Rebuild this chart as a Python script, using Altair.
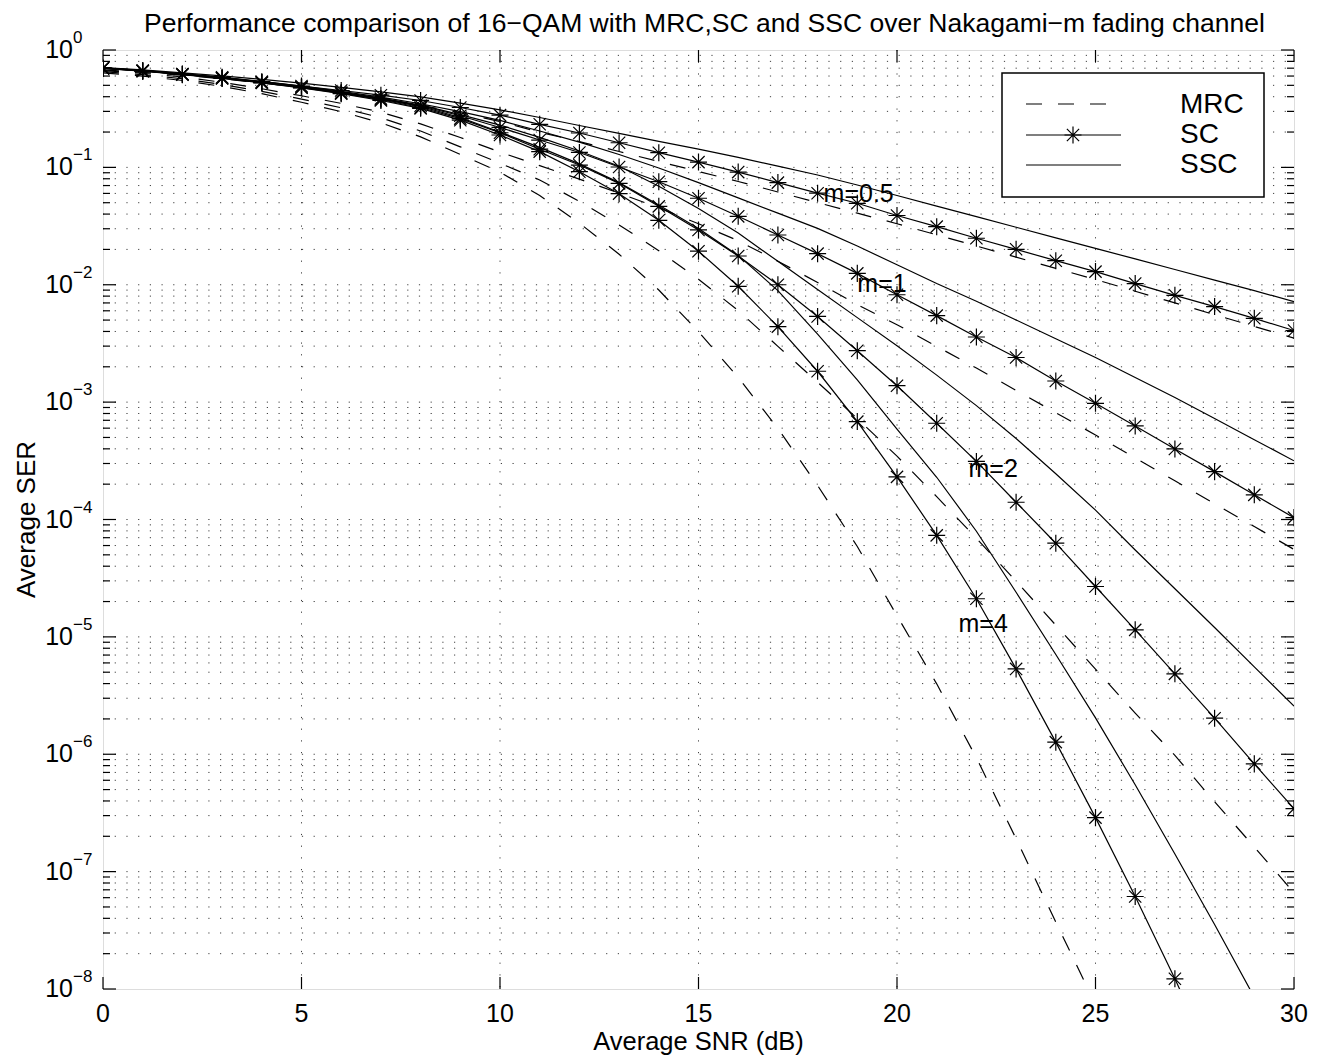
import altair as alt
import pandas as pd

# ---------------- data ----------------
snr_db = list(range(31))

# log10(average SER) at each integer SNR (dB)
mrc_m05 = [-0.170, -0.190, -0.215, -0.245, -0.280, -0.320, -0.365, -0.415, -0.470, -0.535,
           -0.610, -0.700, -0.780, -0.865, -0.950, -1.035, -1.120, -1.210, -1.300, -1.390,
           -1.480, -1.575, -1.670, -1.765, -1.860, -1.955, -2.055, -2.155, -2.255, -2.355, -2.455]
sc_m05 = [-0.153, -0.176, -0.204, -0.233, -0.270, -0.307, -0.345, -0.385, -0.430, -0.490,
          -0.555, -0.633, -0.707, -0.790, -0.875, -0.955, -1.040, -1.130, -1.220, -1.306,
          -1.410, -1.505, -1.604, -1.698, -1.795, -1.888, -1.990, -2.090, -2.186, -2.286, -2.390]
ssc_m05 = [-0.150, -0.170, -0.195, -0.220, -0.250, -0.283, -0.318, -0.356, -0.400, -0.452,
           -0.510, -0.575, -0.643, -0.710, -0.778, -0.845, -0.915, -0.990, -1.065, -1.150,
           -1.240, -1.330, -1.420, -1.510, -1.600, -1.690, -1.780, -1.870, -1.960, -2.050, -2.144]
mrc_m1 = [-0.175, -0.198, -0.230, -0.275, -0.330, -0.390, -0.455, -0.530, -0.630, -0.745,
          -0.870, -0.985, -1.100, -1.220, -1.345, -1.480, -1.625, -1.800, -1.980, -2.170,
          -2.340, -2.525, -2.710, -2.900, -3.090, -3.280, -3.475, -3.670, -3.865, -4.060, -4.255]
sc_m1 = [-0.155, -0.178, -0.207, -0.238, -0.275, -0.316, -0.362, -0.414, -0.475, -0.560,
         -0.660, -0.767, -0.873, -0.997, -1.122, -1.263, -1.417, -1.576, -1.735, -1.903,
         -2.085, -2.263, -2.445, -2.620, -2.820, -3.010, -3.203, -3.399, -3.592, -3.790, -3.984]
ssc_m1 = [-0.152, -0.174, -0.203, -0.233, -0.268, -0.307, -0.352, -0.402, -0.458, -0.525,
          -0.600, -0.690, -0.785, -0.890, -1.005, -1.130, -1.260, -1.390, -1.520, -1.670,
          -1.830, -1.990, -2.140, -2.300, -2.460, -2.620, -2.790, -2.960, -3.140, -3.320, -3.500]
mrc_m2 = [-0.185, -0.210, -0.245, -0.293, -0.352, -0.418, -0.492, -0.577, -0.690, -0.825,
          -0.965, -1.107, -1.290, -1.490, -1.710, -1.953, -2.220, -2.525, -2.830, -3.140,
          -3.460, -3.805, -4.160, -4.525, -4.900, -5.275, -5.650, -6.010, -6.405, -6.790, -7.180]
sc_m2 = [-0.156, -0.179, -0.208, -0.240, -0.278, -0.320, -0.368, -0.424, -0.490, -0.585,
         -0.705, -0.845, -0.980, -1.136, -1.332, -1.533, -1.755, -2.000, -2.270, -2.562,
         -2.860, -3.180, -3.505, -3.853, -4.202, -4.571, -4.940, -5.315, -5.693, -6.082, -6.463]
ssc_m2 = [-0.153, -0.176, -0.205, -0.236, -0.272, -0.312, -0.358, -0.410, -0.470, -0.550,
          -0.640, -0.745, -0.860, -0.990, -1.160, -1.350, -1.560, -1.800, -2.040, -2.280,
          -2.520, -2.770, -3.030, -3.310, -3.610, -3.920, -4.260, -4.590, -4.920, -5.255, -5.590]
mrc_m4 = [-0.195, -0.222, -0.260, -0.310, -0.372, -0.445, -0.525, -0.620, -0.740, -0.890,
          -1.040, -1.240, -1.475, -1.740, -2.045, -2.400, -2.790, -3.225, -3.710, -4.230,
          -4.820, -5.400, -6.030, -6.720, -7.430, -8.130, None, None, None, None, None]
sc_m4 = [-0.157, -0.180, -0.210, -0.242, -0.280, -0.322, -0.372, -0.430, -0.497, -0.598,
         -0.724, -0.866, -1.037, -1.224, -1.451, -1.714, -2.013, -2.357, -2.737, -3.166,
         -3.637, -4.135, -4.675, -5.273, -5.897, -6.540, -7.212, -7.913, -8.650, None, None]
ssc_m4 = [-0.154, -0.177, -0.207, -0.238, -0.275, -0.316, -0.364, -0.418, -0.480, -0.575,
          -0.700, -0.830, -0.970, -1.130, -1.320, -1.520, -1.750, -2.050, -2.420, -2.810,
          -3.230, -3.640, -4.100, -4.620, -5.150, -5.690, -6.260, -6.850, -7.450, -8.070, None]

# curve annotations
label_text = ["m=0.5", "m=1", "m=2", "m=4"]
label_snr = [18.15, 19.0, 21.8, 21.55]
label_log10 = [-1.227, -1.995, -3.569, -4.889]

x_ticks = [0, 5, 10, 15, 20, 25, 30]
decades = [0, -1, -2, -3, -4, -5, -6, -7, -8]
title_text = "Performance comparison of 16\u2212QAM with MRC,SC and SSC over Nakagami\u2212m fading channel"
x_title = "Average SNR (dB)"
y_title = "Average SER"

# ---------------- layout ----------------
W, H = 1191, 939
FONT = "Liberation Sans"

series = [("MRC", "0.5", mrc_m05), ("SC", "0.5", sc_m05), ("SSC", "0.5", ssc_m05),
          ("MRC", "1", mrc_m1), ("SC", "1", sc_m1), ("SSC", "1", ssc_m1),
          ("MRC", "2", mrc_m2), ("SC", "2", sc_m2), ("SSC", "2", ssc_m2),
          ("MRC", "4", mrc_m4), ("SC", "4", sc_m4), ("SSC", "4", ssc_m4)]
rows = []
for scheme, m, vals in series:
    for s, v in zip(snr_db, vals):
        if v is not None:
            rows.append({"snr": s, "ser": 10.0 ** v, "scheme": scheme, "curve": scheme + " m=" + m})
df = pd.DataFrame(rows)

xscale = alt.Scale(domain=[0, 30], nice=False, zero=False)
yscale = alt.Scale(type="log", domain=[1e-8, 1], nice=False)

def X(field):
    return alt.X(field, scale=xscale, axis=None)
def Y(field):
    return alt.Y(field, scale=yscale, axis=None)

# grid
grid_y = [k * 10.0 ** e for e in range(-8, 0) for k in range(1, 10) if not (e == -8 and k == 1)]
grid_x = [5, 10, 15, 20, 25]
dot = [1.2, 10.5]
hgrid = alt.Chart(pd.DataFrame({"v": grid_y})).mark_rule(
    color="black", strokeWidth=1, strokeDash=dot, opacity=0.75
).encode(y=Y("v:Q"), x=alt.value(0), x2=alt.value(W))
vgrid = alt.Chart(pd.DataFrame({"v": grid_x})).mark_rule(
    color="black", strokeWidth=1, strokeDash=dot, opacity=0.75
).encode(x=X("v:Q"), y=alt.value(0), y2=alt.value(H))

# curves
base = alt.Chart(df)
mrc = base.transform_filter(alt.datum.scheme == "MRC").mark_line(
    color="black", strokeWidth=1.2, strokeDash=[16, 16], clip=True
).encode(x=X("snr:Q"), y=Y("ser:Q"), detail="curve:N", order="snr:Q")
sc = base.transform_filter(alt.datum.scheme == "SC").mark_line(
    color="black", strokeWidth=1.2, clip=True
).encode(x=X("snr:Q"), y=Y("ser:Q"), detail="curve:N", order="snr:Q")
ssc = base.transform_filter(alt.datum.scheme == "SSC").mark_line(
    color="black", strokeWidth=1.2, clip=True
).encode(x=X("snr:Q"), y=Y("ser:Q"), detail="curve:N", order="snr:Q")
STAR = "M -1 0 L 1 0 M 0 -1 L 0 1 M -0.72 -0.72 L 0.72 0.72 M -0.72 0.72 L 0.72 -0.72"
sc_pts = base.transform_filter(alt.datum.scheme == "SC").mark_point(
    shape=STAR, size=290, filled=False, color="black", strokeWidth=1.2, opacity=1, clip=True
).encode(x=X("snr:Q"), y=Y("ser:Q"))

# inward ticks on all four sides
maj_y = [10.0 ** e for e in decades]
min_y = [k * 10.0 ** e for e in range(-8, 0) for k in range(2, 10)]
tick_style = dict(color="black", strokeWidth=1.2)
def ytick(vals, x0, x1):
    return alt.Chart(pd.DataFrame({"v": vals})).mark_rule(**tick_style).encode(
        y=Y("v:Q"), x=alt.value(x0), x2=alt.value(x1))
def xtick(y0, y1):
    return alt.Chart(pd.DataFrame({"v": x_ticks})).mark_rule(**tick_style).encode(
        x=X("v:Q"), y=alt.value(y0), y2=alt.value(y1))
ticks = [ytick(maj_y, 0, 13), ytick(min_y, 0, 7), ytick(maj_y, W - 13, W), ytick(min_y, W - 7, W),
         xtick(H - 12, H), xtick(0, 12)]

# tick labels
ylab = pd.DataFrame({"v": maj_y, "base": ["10"] * len(decades),
                     "exp": [("\u2212" + str(-e)) if e < 0 else "0" for e in decades]})
ylab_base = alt.Chart(ylab).mark_text(align="right", baseline="middle", fontSize=25, font=FONT,
                                      color="black").encode(
    y=Y("v:Q"), x=alt.value(-30), text="base:N")
ylab_exp = alt.Chart(ylab).mark_text(align="left", baseline="middle", fontSize=17, font=FONT,
                                     color="black", dy=-12).encode(
    y=Y("v:Q"), x=alt.value(-30), text="exp:N")
xlab = alt.Chart(pd.DataFrame({"v": x_ticks})).mark_text(
    align="center", baseline="alphabetic", fontSize=25, font=FONT, color="black"
).encode(x=X("v:Q"), y=alt.value(H + 32.5), text=alt.Text("v:Q", format="d"))

# titles
one = pd.DataFrame({"k": [0]})
def free_text(t, x, y, size, angle=0):
    kw = dict(align="center", baseline="alphabetic", fontSize=size, font=FONT, color="black", text=t)
    if angle:
        kw["angle"] = angle
    return alt.Chart(one).mark_text(**kw).encode(x=alt.value(x), y=alt.value(y))
titles = [free_text(title_text, W / 2 + 6, -18, 26.5),
          free_text(x_title, W / 2, H + 61, 25.5),
          free_text(y_title, -68, H / 2, 26, angle=270)]

# curve annotations
labs = pd.DataFrame({"snr": label_snr, "ser": [10.0 ** v for v in label_log10], "t": label_text})
lab_layer = alt.Chart(labs).mark_text(align="left", baseline="middle", fontSize=25, font=FONT,
                                      color="black").encode(
    x=X("snr:Q"), y=Y("ser:Q"), text="t:N")

# legend (drawn)
leg_box = alt.Chart(one).mark_rect(fill="white", stroke="black", strokeWidth=1.5).encode(
    x=alt.value(899), x2=alt.value(1161), y=alt.value(23), y2=alt.value(147))
leg_mrc = alt.Chart(one).mark_rule(color="black", strokeWidth=1.2, strokeDash=[16, 16]).encode(
    x=alt.value(923), x2=alt.value(1018), y=alt.value(54))
leg_sc = alt.Chart(one).mark_rule(color="black", strokeWidth=1.2).encode(
    x=alt.value(923), x2=alt.value(1018), y=alt.value(85))
leg_sc_pt = alt.Chart(one).mark_point(shape=STAR, size=290, filled=False, color="black",
                                      strokeWidth=1.2, opacity=1).encode(
    x=alt.value(970), y=alt.value(85))
leg_ssc = alt.Chart(one).mark_rule(color="black", strokeWidth=1.2).encode(
    x=alt.value(923), x2=alt.value(1018), y=alt.value(115))
def leg_text(t, y):
    return alt.Chart(one).mark_text(align="left", baseline="middle", fontSize=28, font=FONT,
                                    color="black", text=t).encode(x=alt.value(1077), y=alt.value(y))
legend = [leg_box, leg_mrc, leg_sc, leg_sc_pt, leg_ssc,
          leg_text("MRC", 55), leg_text("SC", 85), leg_text("SSC", 115)]

chart = alt.layer(
    hgrid, vgrid, mrc, sc, ssc, sc_pts, *ticks, ylab_base, ylab_exp, xlab, *titles,
    lab_layer, *legend
).properties(
    width=W, height=H,
    padding={"left": 95, "top": 42, "right": 25, "bottom": 66},
    autosize=alt.AutoSizeParams(type="none"),
).configure_view(stroke="black", strokeWidth=1.6).configure(font=FONT, background="white")

chart.save("out.html", embed_options={"renderer": "svg", "actions": False})
